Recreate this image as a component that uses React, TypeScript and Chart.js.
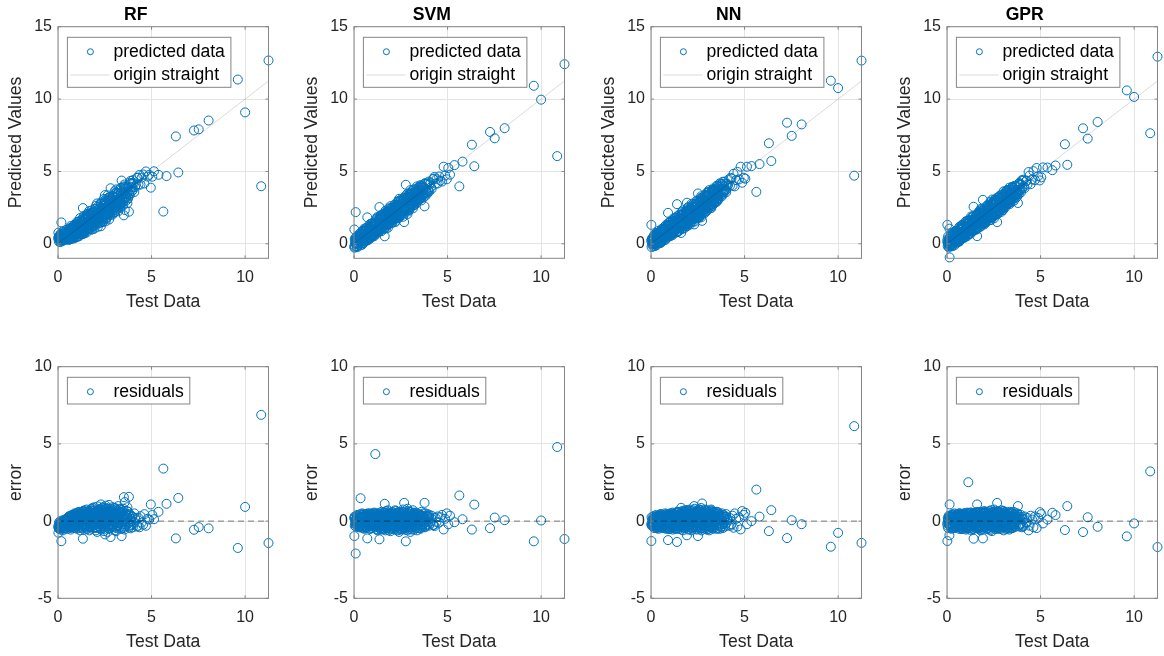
import React, { useEffect, useRef } from 'react';
import { Chart, registerables } from 'chart.js';

Chart.register(...registerables);

// ---------------- data ----------------
const MODELS = ['RF', 'SVM', 'NN', 'GPR'];

// measured (test) values, shared by all four models
const testData = [
  0.02, 0.07, 0.11, 0.04, 0.13, 0.09,
  0.16, 0.19, 0.24, 0.18, 0.14, 0.22,
  0.27, 0.35, 0.38, 0.30, 0.26, 0.33,
  0.43, 0.47, 0.52, 0.45, 0.40, 0.49,
  0.55, 0.63, 0.66, 0.58, 0.56, 0.61,
  0.71, 0.77, 0.80, 0.72, 0.68, 0.74,
  0.85, 0.91, 0.94, 0.86, 0.83, 0.88,
  0.97, 1.05, 1.08, 1.01, 0.99, 1.03,
  1.14, 1.18, 1.22, 1.13, 1.10, 1.16,
  1.26, 1.33, 1.36, 1.29, 1.25, 1.31,
  1.40, 1.47, 1.50, 1.42, 1.39, 1.45,
  1.56, 1.61, 1.64, 1.57, 1.53, 1.59,
  1.68, 1.75, 1.78, 1.71, 1.67, 1.72,
  1.84, 1.89, 1.92, 1.85, 1.81, 1.87,
  1.96, 2.03, 2.06, 1.99, 1.95, 2.01,
  2.12, 2.17, 2.20, 2.13, 2.09, 2.15,
  2.24, 2.31, 2.34, 2.27, 2.23, 2.29,
  2.40, 2.45, 2.48, 2.41, 2.37, 2.43,
  2.52, 2.59, 2.62, 2.55, 2.51, 2.57,
  2.68, 2.73, 2.77, 2.69, 2.65, 2.71,
  2.81, 2.88, 2.91, 2.84, 2.80, 2.86,
  2.98, 3.03, 3.06, 2.99, 2.95, 3.01,
  3.12, 3.19, 3.22, 3.15, 3.11, 3.17,
  3.30, 3.37, 3.40, 3.33, 3.29, 3.35,
  3.52, 3.57, 3.60, 3.53, 3.49, 3.55,
  3.72, 3.79, 3.82, 3.75, 3.71, 3.77,
  3.88, 3.95, 4.02, 4.08, 4.15, 4.22,
  4.30, 4.36, 4.41, 4.47, 4.55, 4.62,
  4.70, 4.79, 4.87, 4.96, 5.04, 5.13,
  5.37, 5.63, 5.80, 6.30, 6.43, 7.27,
  7.52, 8.05, 9.61, 10.00, 10.86, 11.25,
  // dense core
  0.08, 0.12, 0.05, 0.15, 0.10, 0.20,
  0.23, 0.28, 0.25, 0.32, 0.21, 0.36,
  0.39, 0.44, 0.41, 0.48, 0.37, 0.51,
  0.54, 0.59, 0.57, 0.62, 0.53, 0.67,
  0.69, 0.74, 0.70, 0.78, 0.66, 0.81,
  0.84, 0.89, 0.86, 0.93, 0.82, 0.96,
  0.99, 1.04, 1.01, 1.07, 0.98, 1.11,
  1.13, 1.19, 1.16, 1.23, 1.12, 1.27,
  1.30, 1.34, 1.31, 1.38, 1.28, 1.41,
  1.44, 1.49, 1.46, 1.52, 1.43, 1.56,
  1.58, 1.63, 1.60, 1.66, 1.57, 1.70,
  1.73, 1.77, 1.74, 1.81, 1.72, 1.84,
  1.87, 1.91, 1.88, 1.95, 1.86, 1.98,
  2.01, 2.06, 2.03, 2.10, 2.00, 2.13,
  2.16, 2.21, 2.18, 2.24, 2.15, 2.27,
  2.30, 2.35, 2.32, 2.39, 2.29, 2.42,
  2.45, 2.49, 2.46, 2.53, 2.44, 2.56,
  2.59, 2.64, 2.61, 2.67, 2.58, 2.70,
  2.74, 2.78, 2.75, 2.82, 2.73, 2.85,
  2.89, 2.93, 2.90, 2.97, 2.88, 3.00,
  3.04, 3.09, 3.06, 3.13, 3.03, 3.16,
  3.20, 3.25, 3.22, 3.29, 3.19, 3.32,
  3.36, 3.42, 3.38, 3.46, 3.34, 3.50,
  3.54, 3.61, 3.58, 3.66, 3.56, 3.69,
  3.84, 3.92, 3.98, 4.05, 4.12, 4.26,
  // band
  0.03, 0.10, 0.06, 0.17, 0.12, 0.01,
  0.26, 0.20, 0.30, 0.24, 0.34, 0.29,
  0.42, 0.36, 0.46, 0.40, 0.50, 0.44,
  0.57, 0.52, 0.61, 0.55, 0.65, 0.60,
  0.72, 0.67, 0.76, 0.70, 0.79, 0.75,
  0.87, 0.81, 0.90, 0.85, 0.95, 0.89,
  1.02, 0.96, 1.06, 1.00, 1.09, 1.04,
  1.17, 1.11, 1.21, 1.15, 1.24, 1.19,
  1.32, 1.27, 1.36, 1.30, 1.40, 1.34,
  1.47, 1.42, 1.51, 1.45, 1.55, 1.49,
  1.62, 1.57, 1.66, 1.60, 1.69, 1.64,
  1.77, 1.71, 1.80, 1.75, 1.84, 1.79,
  1.91, 1.86, 1.95, 1.90, 1.99, 1.93,
  2.06, 2.01, 2.10, 2.04, 2.14, 2.08,
  2.21, 2.16, 2.25, 2.19, 2.28, 2.23,
  2.36, 2.31, 2.40, 2.34, 2.43, 2.38,
  2.51, 2.46, 2.55, 2.49, 2.58, 2.53,
  2.66, 2.60, 2.70, 2.64, 2.73, 2.68,
  2.81, 2.75, 2.85, 2.79, 2.88, 2.83,
  2.96, 2.90, 3.00, 2.94, 3.04, 2.98,
  3.11, 3.05, 3.15, 3.09, 3.19, 3.13,
  3.27, 3.21, 3.31, 3.25, 3.35, 3.29,
  3.44, 3.38, 3.48, 3.42, 3.52, 3.46,
  3.63, 3.57, 3.68, 3.61, 3.72, 3.65,
  3.86, 3.80, 3.93, 3.84, 4.00, 3.90,
];

// residuals (test - predicted) per model
const errRF = [
  -0.75, -0.35, -0.2, -0.45, -0.1, -0.3,
  -0.25, -0.4, -0.05, -1.3, -0.55, -0.15,
  -0.3, 0.05, -0.45, -0.2, -0.6, 0.0,
  -0.1, -0.5, 0.15, -0.3, 0.1, -0.15,
  0.2, -0.4, -0.05, 0.3, -0.25, 0.0,
  -0.35, 0.1, 0.35, -0.15, -0.55, 0.2,
  0.4, -0.2, 0.05, -0.45, 0.25, 0.5,
  -0.3, 0.55, 0.15, -0.5, 0.3, 0.0,
  0.35, -0.6, 0.1, 0.6, -0.2, 0.45,
  -0.4, -1.14, 0.65, 0.2, -0.1, 0.4,
  0.5, -0.35, 0.1, 0.7, -0.55, 0.25,
  -0.2, 0.6, 0.3, -0.5, 0.75, 0.05,
  0.45, -0.4, 0.8, 0.15, -0.6, 0.35,
  -0.3, 0.65, 0.2, 0.85, -0.5, 0.4,
  0.55, -0.6, 0.3, -0.15, 0.9, 0.1,
  -0.45, 0.7, 0.15, 0.95, -0.7, 0.4,
  0.3, -0.55, 0.75, -0.2, 0.5, 1.08,
  0.6, -0.65, 0.2, 0.9, -0.3, 0.45,
  -0.5, 0.85, 0.35, 1.0, -0.86, 0.1,
  0.65, 1.05, -0.45, 0.2, -0.7, 0.5,
  -1.03, 0.4, 0.9, -0.25, 0.7, 0.15,
  0.55, -0.6, 0.3, 0.85, -0.35, 0.1,
  -0.4, 0.7, 0.97, 0.2, -0.65, 0.45,
  0.3, -0.5, -0.97, 0.75, 0.15, 0.6,
  1.55, 1.23, -0.3, 0.4, 0.8, -0.55,
  0.2, 1.57, -0.4, 0.6, 0.9, -0.1,
  -0.47, 0.3, -0.2, 0.5, 0.1, -0.35,
  0.2, -0.4, 0.32, -0.1, -0.24, 0.45,
  -0.3, 0.15, 0.1, 1.08, 0.4, 0.12,
  0.6, 3.40, 1.12, -1.12, 1.50, -0.56,
  -0.39, -0.47, -1.74, 0.92, 6.88, -1.42,
  // dense core
  -0.2, -0.35, -0.1, -0.3, -0.45, -0.15,
  -0.25, -0.05, -0.4, -0.2, -0.3, 0.0,
  -0.15, -0.3, 0.05, -0.2, -0.35, 0.1,
  0.0, -0.25, 0.15, -0.1, -0.3, 0.05,
  -0.05, 0.2, -0.2, 0.1, -0.3, 0.25,
  0.1, -0.15, 0.3, -0.25, 0.2, 0.0,
  0.15, -0.2, 0.35, 0.0, -0.3, 0.25,
  -0.1, 0.3, 0.05, 0.4, -0.25, 0.2,
  0.25, -0.15, 0.45, 0.1, -0.3, 0.35,
  0.0, 0.4, -0.2, 0.3, 0.15, -0.35,
  0.35, -0.1, 0.5, 0.2, -0.3, 0.1,
  0.15, 0.45, -0.2, 0.3, 0.0, 0.55,
  -0.15, 0.35, 0.1, 0.5, -0.3, 0.25,
  0.4, 0.0, 0.6, 0.2, -0.25, 0.35,
  0.1, 0.5, -0.2, 0.3, 0.65, 0.0,
  0.45, -0.1, 0.3, 0.6, 0.15, -0.3,
  0.2, 0.55, -0.15, 0.35, 0.7, 0.05,
  -0.2, 0.4, 0.15, 0.6, 0.3, -0.35,
  0.35, 0.0, 0.55, 0.2, -0.25, 0.45,
  0.1, 0.5, -0.2, 0.3, 0.65, 0.0,
  0.4, -0.15, 0.25, 0.55, 0.05, -0.3,
  0.2, 0.45, -0.1, 0.35, -0.3, 0.6,
  -0.15, 0.3, 0.5, 0.05, -0.35, 0.25,
  0.35, -0.2, 0.15, 0.45, -0.05, 0.25,
  0.1, -0.25, 0.3, -0.1, 0.2, -0.3,
  // band
  -0.4, -0.15, -0.5, -0.25, 0.0, -0.35,
  -0.1, -0.45, -0.3, 0.05, -0.2, -0.5,
  -0.35, 0.1, -0.2, -0.45, 0.2, -0.05,
  0.1, -0.35, 0.25, -0.15, -0.45, 0.3,
  -0.25, 0.35, 0.0, -0.4, 0.15, 0.4,
  0.3, -0.35, 0.45, -0.1, 0.1, -0.4,
  -0.35, 0.45, 0.0, 0.2, -0.45, 0.55,
  0.5, -0.4, 0.25, -0.15, 0.6, 0.0,
  -0.25, 0.55, 0.15, -0.45, 0.35, 0.65,
  0.6, -0.3, 0.05, 0.45, -0.5, 0.25,
  -0.4, 0.25, 0.65, -0.15, 0.45, 0.0,
  0.55, -0.35, 0.2, 0.7, -0.1, 0.4,
  0.0, 0.7, -0.45, 0.4, 0.2, -0.25,
  0.6, -0.4, 0.3, -0.1, 0.75, 0.15,
  -0.35, 0.45, 0.8, 0.05, -0.5, 0.6,
  0.7, -0.45, 0.2, 0.5, -0.2, 0.85,
  -0.4, 0.3, 0.75, -0.15, 0.55, 0.0,
  0.5, 0.8, -0.3, 0.25, -0.5, 0.65,
  -0.35, 0.6, 0.05, 0.8, -0.1, 0.4,
  0.7, -0.4, 0.45, 0.0, 0.85, -0.2,
  -0.45, 0.5, 0.1, 0.75, -0.25, 0.35,
  0.6, -0.3, 0.8, 0.1, -0.5, 0.45,
  -0.2, 0.55, 0.0, 0.7, -0.45, 0.35,
  0.5, -0.35, 0.65, 0.1, -0.2, 0.4,
  -0.3, 0.35, 0.0, 0.45, -0.4, 0.15,
];

const errSVM = [
  -0.97, -0.2, 0.1, -0.3, 0.05, -2.1,
  0.15, -0.25, 0.2, -0.1, 0.3, -0.35,
  -0.3, 1.48, 0.25, -0.4, 0.1, -0.15,
  0.3, -0.35, 0.05, 0.4, -0.2, 0.15,
  -0.4, 0.2, 0.45, -0.1, 0.35, -0.3,
  -1.12, 0.4, -0.25, 0.15, -0.45, 0.3,
  0.5, -0.3, 0.1, -0.5, 0.35, 0.0,
  -0.45, 0.25, 0.55, -0.15, 0.4, -0.3,
  4.34, 0.3, -0.55, 0.45, -0.2, 0.1,
  0.5, -0.35, -1.18, 0.25, -0.6, 0.15,
  -0.4, 0.6, 0.2, -0.25, 0.45, -0.55,
  0.35, -0.5, 1.12, 0.1, -0.3, 0.55,
  -0.6, 0.4, -0.15, 0.65, 0.2, -0.45,
  0.5, -0.35, 0.25, -0.6, 0.7, 0.05,
  -0.5, 0.6, -0.2, 0.35, -0.65, 0.15,
  0.45, -0.55, 0.7, -0.25, 0.3, -0.4,
  -0.3, 0.55, -0.6, 0.2, 0.65, -0.1,
  0.6, -0.45, 0.25, -0.7, 0.4, 0.05,
  -0.55, 0.35, 0.75, -0.2, 0.5, -0.4,
  1.18, 0.3, -1.31, 0.55, -0.5, 0.2,
  -0.4, 0.65, 0.1, -0.6, 0.4, 0.8,
  0.45, -0.5, 0.3, -0.25, 0.6, -0.7,
  -0.35, 0.5, -0.55, 0.7, 0.15, -0.2,
  0.4, -0.6, 0.25, 0.55, -0.3, 0.0,
  -0.45, 0.35, 0.6, -0.2, 0.45, -0.5,
  0.3, -0.4, 0.5, -0.15, 0.2, 1.18,
  -0.3, 0.25, 0.4, -0.15, 0.35, -0.25,
  -0.32, 0.2, -0.06, 0.3, -0.1, 0.25,
  0.4, -0.54, 0.15, 0.5, -0.2, 0.35,
  -0.07, 1.66, 0.12, -0.55, 1.07, -0.46,
  0.23, 0.06, -1.31, 0.04, 4.8, -1.16,
  // dense core
  0.05, -0.15, 0.2, -0.25, 0.1, -0.05,
  -0.2, 0.15, -0.1, 0.25, 0.0, -0.3,
  0.2, -0.25, 0.05, 0.3, -0.1, 0.15,
  -0.15, 0.1, -0.3, 0.2, 0.0, 0.3,
  0.25, -0.2, 0.1, -0.05, 0.35, -0.3,
  -0.1, 0.3, -0.25, 0.05, 0.2, -0.35,
  0.15, -0.3, 0.35, -0.1, 0.0, 0.25,
  -0.25, 0.1, -0.05, 0.35, -0.35, 0.2,
  0.3, -0.15, 0.05, -0.3, 0.2, -0.05,
  -0.2, 0.25, -0.35, 0.1, 0.35, 0.0,
  0.1, -0.3, 0.3, -0.1, -0.2, 0.2,
  -0.35, 0.15, 0.0, 0.35, -0.15, 0.25,
  0.2, -0.25, 0.4, -0.05, 0.1, -0.35,
  -0.1, 0.35, -0.3, 0.15, 0.0, 0.3,
  0.3, -0.2, 0.1, -0.4, 0.25, -0.05,
  -0.25, 0.2, -0.1, 0.4, -0.35, 0.1,
  0.15, -0.3, 0.35, 0.0, -0.15, 0.25,
  -0.05, 0.3, -0.35, 0.2, 0.1, -0.2,
  0.25, -0.1, 0.0, -0.3, 0.4, 0.15,
  -0.3, 0.1, 0.3, -0.15, 0.2, -0.4,
  0.05, -0.25, 0.35, 0.15, -0.35, 0.25,
  -0.2, 0.3, -0.05, 0.4, 0.1, -0.3,
  0.2, -0.35, 0.1, -0.15, 0.3, 0.0,
  -0.1, 0.25, -0.3, 0.35, 0.05, -0.2,
  0.15, -0.2, 0.3, -0.05, 0.2, -0.25,
  // band
  0.3, -0.35, 0.0, 0.4, -0.15, 0.2,
  -0.4, 0.35, -0.15, 0.0, 0.45, -0.25,
  0.4, -0.05, -0.45, 0.2, -0.3, 0.5,
  -0.35, 0.45, 0.1, -0.5, 0.25, -0.1,
  0.45, -0.4, 0.3, 0.0, -0.2, 0.5,
  -0.5, 0.15, 0.45, -0.3, 0.05, 0.35,
  0.35, -0.45, 0.0, 0.5, -0.25, 0.15,
  -0.3, 0.5, -0.5, 0.2, 0.4, -0.15,
  0.5, -0.4, 0.25, -0.1, -0.5, 0.35,
  -0.45, 0.3, 0.05, 0.5, -0.2, 0.4,
  0.4, -0.5, 0.55, -0.05, 0.25, -0.35,
  -0.25, 0.45, -0.45, 0.3, 0.05, 0.5,
  0.5, -0.35, 0.2, -0.5, 0.4, 0.05,
  -0.45, 0.55, 0.0, 0.35, -0.3, 0.45,
  0.4, -0.5, 0.5, -0.2, 0.1, -0.4,
  -0.35, 0.45, -0.55, 0.25, 0.55, 0.0,
  0.5, -0.25, 0.3, -0.5, 0.05, 0.45,
  -0.4, 0.6, -0.15, 0.4, -0.55, 0.2,
  0.45, -0.45, 0.55, 0.0, 0.3, -0.3,
  -0.5, 0.35, -0.25, 0.5, -0.1, 0.6,
  0.4, -0.4, 0.2, -0.55, 0.5, 0.0,
  -0.3, 0.55, -0.45, 0.3, 0.0, 0.45,
  0.45, -0.25, 0.35, -0.45, 0.2, -0.1,
  -0.4, 0.4, 0.0, -0.25, 0.5, 0.2,
  0.3, -0.35, 0.45, 0.05, -0.3, 0.35,
];

const errNN = [
  -1.29, -0.1, 0.15, -0.3, 0.05, -0.2,
  -0.15, 0.2, -0.35, 0.1, -0.25, 0.25,
  0.05, -0.3, 0.3, -0.45, 0.15, -0.1,
  -0.35, 0.25, -0.1, 0.35, -0.5, 0.1,
  0.3, -0.4, 0.15, -0.2, 0.4, -0.05,
  -0.3, 0.35, -0.5, 0.2, 0.0, -0.15,
  0.25, -1.23, 0.4, -0.35, 0.1, -0.45,
  0.45, -0.2, 0.05, 0.3, -0.5, 0.2,
  -0.4, 0.5, 0.1, -0.25, 0.35, -0.55,
  0.2, -0.45, 0.55, -0.1, 0.4, -0.3,
  -0.5, 0.3, -0.15, 0.6, -1.35, 0.15,
  0.4, 0.86, -0.55, 0.2, -0.25, 0.5,
  -0.35, 0.55, 0.1, -0.6, 0.35, -0.1,
  0.6, -0.4, -0.92, 0.25, 0.45, -0.2,
  -0.3, 0.5, 0.15, -0.55, 0.7, 0.0,
  0.45, -0.6, 0.3, 0.65, -0.25, 0.1,
  -0.5, 0.97, 0.2, -0.35, 0.55, 0.4,
  0.3, -0.55, 0.7, 0.05, -0.4, 0.5,
  0.6, -0.3, 0.25, 0.75, -0.97, 0.1,
  -0.45, 1.14, 0.4, -0.6, 0.2, 0.55,
  0.35, -0.5, 0.65, 0.1, -0.3, 0.45,
  -0.55, 0.5, -0.2, 0.7, 0.25, -0.4,
  0.4, -0.35, 0.75, 0.05, -0.6, 0.3,
  -0.3, 0.55, 0.2, -0.5, 0.4, 0.6,
  0.45, -0.45, 0.1, 0.6, -0.25, 0.3,
  -0.4, 0.5, 0.25, -0.2, 0.4, 0.05,
  0.3, -0.35, 0.45, 0.1, -0.3, 0.2,
  -0.2, 0.35, -0.43, 0.5, 0.15, -0.35,
  0.25, -0.54, 0.65, 0.4, 0.54, -0.2,
  0.0, 2.04, 0.29, -0.65, 0.71, -1.10,
  0.06, -0.2, -1.66, -0.76, 6.15, -1.41,
  // dense core
  -0.1, 0.1, -0.25, 0.05, -0.15, 0.2,
  0.15, -0.2, 0.0, -0.3, 0.25, -0.1,
  -0.2, 0.2, -0.05, 0.3, -0.3, 0.05,
  0.1, -0.25, 0.25, -0.1, 0.0, -0.3,
  -0.15, 0.3, 0.05, -0.25, 0.2, 0.0,
  0.25, -0.1, 0.35, -0.3, 0.1, -0.2,
  -0.05, 0.2, -0.25, 0.35, 0.0, 0.15,
  0.3, -0.2, 0.1, -0.35, 0.25, -0.05,
  -0.15, 0.35, 0.0, 0.2, -0.3, 0.1,
  0.2, -0.25, 0.4, -0.1, 0.05, 0.3,
  -0.2, 0.1, 0.3, -0.35, 0.2, 0.45,
  0.25, -0.15, 0.05, 0.4, -0.3, 0.15,
  -0.1, 0.35, -0.3, 0.2, 0.5, 0.0,
  0.3, -0.2, 0.45, 0.05, -0.35, 0.2,
  -0.25, 0.15, 0.35, -0.1, 0.5, 0.05,
  0.2, 0.45, -0.2, 0.3, -0.05, 0.55,
  -0.3, 0.25, 0.1, 0.5, -0.15, 0.35,
  0.15, -0.25, 0.4, 0.0, 0.6, -0.1,
  -0.2, 0.3, 0.05, 0.45, -0.35, 0.2,
  0.35, -0.1, 0.2, -0.3, 0.5, 0.0,
  -0.15, 0.4, 0.1, 0.25, -0.3, 0.5,
  0.2, -0.2, 0.35, 0.0, 0.45, -0.35,
  -0.05, 0.3, -0.25, 0.15, 0.4, 0.0,
  0.25, -0.3, 0.1, 0.35, -0.15, 0.2,
  -0.2, 0.15, 0.3, -0.1, 0.05, -0.3,
  // band
  0.25, -0.35, 0.1, -0.45, 0.3, -0.2,
  -0.3, 0.35, -0.45, 0.2, 0.0, 0.4,
  0.35, -0.4, 0.15, -0.2, 0.45, -0.35,
  -0.45, 0.3, -0.25, 0.45, 0.1, -0.4,
  0.4, -0.3, 0.5, -0.45, 0.05, 0.25,
  -0.4, 0.45, -0.15, 0.3, -0.5, 0.1,
  0.5, -0.35, 0.2, -0.5, 0.4, -0.2,
  -0.45, 0.35, -0.1, 0.55, -0.3, 0.45,
  0.4, -0.5, 0.3, -0.2, 0.6, 0.0,
  -0.35, 0.55, -0.5, 0.25, 0.0, 0.6,
  0.45, -0.4, 0.65, 0.1, -0.25, 0.35,
  -0.45, 0.6, 0.0, -0.35, 0.45, 0.7,
  0.55, -0.3, 0.3, 0.7, -0.5, 0.15,
  -0.4, 0.65, 0.1, 0.4, -0.2, 0.75,
  0.5, -0.45, 0.7, 0.0, 0.35, -0.3,
  -0.35, 0.6, 0.05, 0.8, -0.5, 0.4,
  0.65, -0.4, 0.45, -0.1, 0.75, 0.2,
  -0.5, 0.5, 0.2, 0.7, -0.25, 0.85,
  0.6, -0.45, 0.75, 0.1, -0.15, 0.4,
  -0.35, 0.7, 0.0, 0.55, -0.5, 0.3,
  0.6, -0.3, 0.45, -0.5, 0.7, 0.05,
  -0.45, 0.55, 0.15, 0.65, -0.25, 0.35,
  0.5, -0.4, 0.6, 0.0, -0.5, 0.3,
  -0.3, 0.45, -0.5, 0.55, 0.1, -0.15,
  0.4, -0.35, 0.25, -0.45, 0.3, -0.1,
];

const errGPR = [
  -1.29, 0.1, -0.25, 0.2, -0.92, -0.1,
  0.25, -0.3, 0.05, -0.2, 1.08, 0.15,
  -0.35, 0.2, -0.1, 0.35, -0.45, 0.05,
  0.3, -0.2, 0.45, -0.4, 0.1, -0.05,
  -0.3, 0.4, -0.5, 0.15, 0.25, -0.15,
  0.35, -0.45, 0.2, -0.1, 0.5, -0.3,
  -0.5, 0.25, 0.1, 0.45, -0.35, 0.0,
  0.4, -0.3, 0.55, -0.55, 0.15, -0.1,
  2.52, 0.35, -0.45, 0.2, 0.5, -0.25,
  -0.35, 0.45, 0.1, -0.6, 0.3, -0.15,
  0.5, -0.25, 0.4, -1.14, -0.5, 0.2,
  -0.45, 1.08, 0.3, 0.55, -0.2, 0.1,
  0.35, -0.55, 0.6, -0.15, 0.25, -0.4,
  -0.3, 0.5, -1.12, 0.4, -0.6, 0.2,
  0.55, -0.4, 0.25, 0.65, -0.2, 0.05,
  -0.5, 0.4, -0.15, 0.6, 0.3, -0.35,
  0.45, -0.6, 0.7, 0.15, -0.3, 0.5,
  -0.4, 0.55, 0.25, -0.65, 0.4, 0.0,
  0.6, -0.35, 0.45, -0.5, 0.75, 0.1,
  1.18, -0.45, 0.3, 0.6, -0.2, 0.45,
  -0.5, 0.4, 0.7, -0.3, 0.15, 0.55,
  0.35, -0.6, 0.2, 0.5, -0.35, 0.65,
  -0.3, 0.45, -0.5, 0.25, 0.6, -0.15,
  0.5, -0.4, 0.3, -0.55, 0.2, 0.45,
  -0.35, 0.6, 0.1, 0.4, -0.45, 0.25,
  0.3, 0.97, -0.3, 0.5, -0.2, 0.1,
  -0.25, 0.4, 0.15, -0.35, 0.3, -0.1,
  0.2, -0.6, -0.3, 0.35, 0.1, -0.4,
  0.3, -0.45, 0.2, 0.58, 0.45, -0.15,
  0.1, 0.54, 0.39, -0.58, 0.97, -0.71,
  0.25, -0.37, -0.99, -0.15, 3.22, -1.68,
  // dense core
  0.1, -0.2, 0.0, 0.25, -0.1, 0.15,
  -0.15, 0.2, -0.3, 0.05, 0.3, -0.05,
  0.25, -0.1, 0.15, -0.25, 0.0, 0.3,
  -0.2, 0.15, 0.35, -0.05, 0.2, -0.3,
  0.05, -0.25, 0.2, 0.3, -0.15, 0.1,
  -0.3, 0.1, -0.05, 0.25, -0.2, 0.35,
  0.2, -0.15, 0.3, -0.3, 0.05, -0.05,
  -0.1, 0.25, -0.35, 0.15, 0.0, 0.3,
  0.3, -0.2, 0.1, -0.05, 0.35, -0.3,
  -0.25, 0.05, 0.25, -0.15, 0.2, 0.0,
  0.15, -0.35, 0.0, 0.3, -0.1, 0.35,
  -0.05, 0.2, -0.25, 0.4, -0.35, 0.1,
  0.25, -0.1, 0.35, -0.3, 0.05, 0.2,
  -0.2, 0.3, 0.0, 0.15, -0.4, 0.4,
  0.1, -0.25, 0.3, -0.05, 0.2, -0.35,
  -0.3, 0.15, -0.1, 0.35, 0.0, 0.25,
  0.2, -0.35, 0.4, -0.15, 0.1, -0.05,
  -0.1, 0.25, 0.05, 0.35, -0.3, 0.15,
  0.3, -0.2, 0.15, -0.35, 0.0, 0.4,
  -0.25, 0.1, 0.35, -0.05, 0.25, -0.3,
  0.05, 0.35, -0.2, 0.2, -0.35, 0.1,
  -0.15, 0.25, 0.4, -0.3, 0.1, 0.0,
  0.3, -0.1, 0.15, -0.25, 0.35, -0.05,
  -0.2, 0.2, 0.0, 0.3, -0.3, 0.1,
  0.1, -0.15, 0.25, -0.3, 0.15, -0.1,
  // band
  -0.3, 0.35, -0.45, 0.1, 0.3, -0.15,
  0.4, -0.4, 0.25, -0.5, 0.1, 0.45,
  -0.45, 0.3, -0.25, 0.5, -0.05, -0.35,
  0.45, -0.4, 0.05, -0.25, 0.5, 0.2,
  -0.5, 0.35, -0.3, 0.45, 0.0, -0.4,
  0.4, -0.5, 0.5, -0.2, 0.25, 0.05,
  -0.4, 0.5, -0.1, 0.35, -0.5, 0.2,
  0.5, -0.45, 0.3, -0.25, 0.55, -0.05,
  -0.5, 0.4, -0.2, 0.55, 0.0, 0.3,
  0.45, -0.5, 0.55, 0.0, -0.35, 0.4,
  -0.4, 0.5, -0.05, 0.6, -0.5, 0.25,
  0.45, -0.45, 0.6, -0.1, 0.3, -0.35,
  -0.5, 0.55, 0.05, -0.4, 0.5, 0.3,
  0.55, -0.35, 0.25, 0.6, -0.5, 0.1,
  -0.45, 0.5, -0.2, 0.4, 0.65, -0.3,
  0.5, -0.5, 0.55, 0.0, -0.25, 0.45,
  -0.35, 0.6, -0.5, 0.3, 0.5, 0.05,
  0.5, -0.4, 0.65, -0.2, 0.15, -0.5,
  -0.45, 0.55, -0.1, 0.6, -0.3, 0.3,
  0.45, -0.5, 0.5, 0.1, -0.2, 0.65,
  -0.4, 0.55, -0.25, 0.45, 0.0, -0.5,
  0.5, -0.35, 0.3, -0.45, 0.6, 0.1,
  -0.25, 0.5, -0.45, 0.35, -0.1, 0.55,
  0.4, -0.3, 0.5, -0.4, 0.2, -0.1,
  -0.35, 0.3, -0.2, 0.4, -0.4, 0.15,
];

const MODEL_ERRORS = [errRF, errSVM, errNN, errGPR];

const X_RANGE = [0, 11.25];
const Y_RANGE_PRED = [-1, 15];
const Y_RANGE_ERR = [-5, 10];
const TICK_STEP = 5;

const LABEL_X = 'Test Data';
const LABEL_Y_PRED = 'Predicted Values';
const LABEL_Y_ERR = 'error';
const LEGEND_PRED = 'predicted data';
const LEGEND_LINE = 'origin straight';
const LEGEND_RES = 'residuals';

// ---------------- styles / layout ----------------
const FONT = '"Liberation Sans", Arial, Helvetica, sans-serif';
const BLUE = '#0072BD';
const TEXT = '#262626';
const GRID = '#e4e4e4';
const EDGE = '#858585';

const BOX_LEFTS = [58, 354, 651, 947];
const Y_AXIS_W = 55;
const CANVAS_W = 272;
const CANVAS_H = 320;
const BOX_W = 210.5;
const ROW_TOP = [0, 336];

const framePlugin = {
  id: 'frameAndLegend',
  afterDraw(chart: any) {
    const { ctx, chartArea: a } = chart;
    const xs = chart.scales.x;
    const ys = chart.scales.y;
    ctx.save();
    // inward ticks
    ctx.strokeStyle = EDGE;
    ctx.lineWidth = 1;
    ctx.beginPath();
    xs.ticks.forEach((t: any) => {
      const px = xs.getPixelForValue(t.value);
      ctx.moveTo(px, a.bottom); ctx.lineTo(px, a.bottom - 3);
      ctx.moveTo(px, a.top); ctx.lineTo(px, a.top + 3);
    });
    ys.ticks.forEach((t: any) => {
      const py = ys.getPixelForValue(t.value);
      ctx.moveTo(a.left, py); ctx.lineTo(a.left + 3, py);
      ctx.moveTo(a.right, py); ctx.lineTo(a.right - 3, py);
    });
    ctx.stroke();
    // box
    ctx.strokeRect(a.left, a.top, a.right - a.left, a.bottom - a.top);

    // legend
    const items = chart.data.datasets.filter((d: any) => d.label);
    ctx.font = `17.6px ${FONT}`;
    const textW = Math.max(...items.map((d: any) => ctx.measureText(d.label).width));
    const lx = a.left + 9.4;
    const ly = a.top + 10.6;
    const w = 46 + textW + 6;
    const h = 26.7 + 23.3 * (items.length - 1);
    ctx.fillStyle = '#ffffff';
    ctx.fillRect(lx, ly, w, h);
    ctx.strokeStyle = EDGE;
    ctx.strokeRect(lx, ly, w, h);
    items.forEach((d: any, i: number) => {
      const cy = ly + 14.4 + 23.3 * i;
      if (d.legendKind === 'line') {
        ctx.strokeStyle = d.borderColor;
        ctx.lineWidth = 1;
        ctx.beginPath();
        ctx.moveTo(lx + 3, cy);
        ctx.lineTo(lx + 42, cy);
        ctx.stroke();
      } else {
        ctx.strokeStyle = BLUE;
        ctx.lineWidth = 1;
        ctx.beginPath();
        ctx.arc(lx + 23, cy, 3, 0, Math.PI * 2);
        ctx.stroke();
      }
      ctx.fillStyle = '#000000';
      ctx.textAlign = 'left';
      ctx.textBaseline = 'middle';
      ctx.fillText(d.label, lx + 46, cy);
    });
    ctx.restore();
  },
};

function buildConfig(model: string, errs: number[], row: number): any {
  const isTop = row === 0;
  const yRange = isTop ? Y_RANGE_PRED : Y_RANGE_ERR;
  const pts = testData
    .map((t, i) => ({ x: t, y: isTop ? Math.round((t - errs[i]) * 100) / 100 : errs[i] }))
    .filter((p) => p.y >= yRange[0] && p.y <= yRange[1]);
  const xMax = Math.max(...testData);
  const refLine = isTop
    ? [{ x: 0, y: 0 }, { x: xMax, y: xMax }]
    : [{ x: 0, y: 0 }, { x: xMax, y: 0 }];

  const datasets: any[] = [
    {
      label: isTop ? LEGEND_PRED : LEGEND_RES,
      legendKind: 'marker',
      data: pts,
      showLine: false,
      pointStyle: 'circle',
      pointRadius: 4.5,
      pointBorderWidth: 1,
      pointBorderColor: BLUE,
      borderColor: BLUE,
      pointBackgroundColor: 'rgba(0,0,0,0)',
      backgroundColor: 'rgba(0,0,0,0)',
      clip: false,
      order: 2,
    },
    {
      label: isTop ? LEGEND_LINE : '',
      legendKind: 'line',
      data: refLine,
      showLine: true,
      pointRadius: 0,
      borderWidth: 1,
      borderColor: isTop ? 'rgba(0,0,0,0.15)' : 'rgba(0,0,0,0.5)',
      borderDash: isTop ? [] : [6, 4],
      fill: false,
      clip: false,
      order: 1,
    },
  ];

  return {
    type: 'scatter',
    data: { datasets },
    plugins: [framePlugin],
    options: {
      animation: false,
      responsive: false,
      devicePixelRatio: 1,
      events: [],
      layout: { padding: { left: 0, right: CANVAS_W - Y_AXIS_W - BOX_W, top: isTop ? 0 : 30.7, bottom: 0 } },
      plugins: {
        legend: { display: false },
        tooltip: { enabled: false },
        title: {
          display: isTop,
          text: model,
          color: '#000000',
          font: { family: FONT, size: 17.6, weight: 'bold' },
          padding: { top: 4.7, bottom: 0.9 },
        },
      },
      scales: {
        x: {
          type: 'linear',
          min: X_RANGE[0],
          max: X_RANGE[1],
          ticks: {
            stepSize: TICK_STEP,
            includeBounds: false,
            padding: 9.6,
            maxRotation: 0,
            color: TEXT,
            font: { family: FONT, size: 16 },
          },
          grid: { color: GRID, drawTicks: false, lineWidth: 1 },
          border: { display: false },
          title: {
            display: true,
            text: LABEL_X,
            color: TEXT,
            font: { family: FONT, size: 17.6 },
            padding: { top: 0, bottom: isTop ? 7.7 : 3.7 },
          },
          afterFit: (s: any) => { s.height = isTop ? 61.7 : 57.7; },
        },
        y: {
          type: 'linear',
          min: yRange[0],
          max: yRange[1],
          ticks: {
            stepSize: TICK_STEP,
            includeBounds: false,
            padding: 6,
            color: TEXT,
            font: { family: FONT, size: 16 },
          },
          grid: { color: GRID, drawTicks: false, lineWidth: 1 },
          border: { display: false },
          title: {
            display: true,
            text: isTop ? LABEL_Y_PRED : LABEL_Y_ERR,
            color: TEXT,
            font: { family: FONT, size: 17.6 },
            padding: { top: 2.4, bottom: 0 },
          },
          afterFit: (s: any) => { s.width = Y_AXIS_W; },
        },
      },
    },
  };
}

export default function App() {
  const refs = useRef<(HTMLCanvasElement | null)[]>([]);

  useEffect(() => {
    const charts: Chart[] = [];
    [0, 1].forEach((row) => {
      MODELS.forEach((m, c) => {
        const cv = refs.current[row * 4 + c];
        if (cv) charts.push(new Chart(cv, buildConfig(m, MODEL_ERRORS[c], row)));
      });
    });
    return () => charts.forEach((ch) => ch.destroy());
  }, []);

  const cells: any[] = [];
  [0, 1].forEach((row) => {
    MODELS.forEach((m, c) => {
      cells.push(
        <canvas
          key={`${row}-${c}`}
          ref={(el) => { refs.current[row * 4 + c] = el; }}
          width={CANVAS_W}
          height={CANVAS_H}
          style={{
            position: 'absolute',
            left: BOX_LEFTS[c] - Y_AXIS_W,
            top: ROW_TOP[row],
            width: CANVAS_W,
            height: CANVAS_H,
          }}
        />
      );
    });
  });

  return (
    <div
      style={{
        position: 'absolute',
        left: 0,
        top: 0,
        width: 1164,
        height: 656,
        overflow: 'hidden',
        background: '#ffffff',
      }}
    >
      {cells}
    </div>
  );
}
